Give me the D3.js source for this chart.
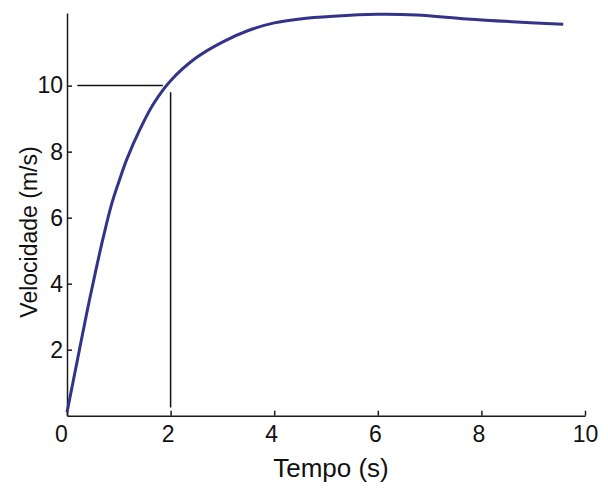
<!DOCTYPE html>
<html>
<head>
<meta charset="utf-8">
<script src="https://cdn.jsdelivr.net/npm/d3@7"></script>
<style>
  body { margin: 0; background: #fff; }
  svg { display: block; font-family: "Liberation Sans", Arial, sans-serif; }
  .axis path, .axis line { stroke: #1a1a1a; stroke-width: 1.5; }
  .axis text { font-size: 23px; fill: #111; }
  .title { fill: #111; }
</style>
</head>
<body>
<div id="chart"></div>
<script>
// velocity curve
const time = [0, 0.19, 0.38, 0.57, 0.70, 0.86, 1.0, 1.15, 1.41, 1.67, 2.0, 2.5, 3.0, 3.5, 4.0, 4.5, 5.14, 5.98, 6.75, 7.72, 8.68, 9.58];
const velocity = [0.1, 1.6, 3.1, 4.5, 5.4, 6.4, 7.08, 7.75, 8.68, 9.45, 10.15, 10.85, 11.32, 11.67, 11.9, 12.02, 12.1, 12.16, 12.14, 12.02, 11.93, 11.86];

const xTicks = [0, 2, 4, 6, 8, 10];
const yTicks = [2, 4, 6, 8, 10];

// guide lines at v = 10 and t = 2
const guideV = 10, guideT = 2;
const guideHFrom = 0.2, guideHTo = 1.85;
const guideVFrom = 0.25, guideVTo = 9.8;

const width = 608, height = 489;

const svg = d3.select("#chart").append("svg")
    .attr("width", width)
    .attr("height", height);

const x = d3.scaleLinear().domain([0, 10]).range([67, 585]);
const y = d3.scaleLinear().domain([0, 12.2]).range([415.7, 13]);

// x axis
svg.append("g")
    .attr("class", "axis")
    .attr("transform", `translate(0,${y(0)})`)
    .call(d3.axisBottom(x).tickValues(xTicks).tickSizeInner(-5).tickSizeOuter(0).tickPadding(10))
    .call(g => g.selectAll(".tick text").attr("dx", d => d === 10 ? 0 : (d === 0 ? -6 : -3)));

// y axis
svg.append("g")
    .attr("class", "axis")
    .attr("transform", `translate(${x(0)},0)`)
    .call(d3.axisLeft(y).tickValues(yTicks).tickSizeInner(-5).tickSizeOuter(0).tickPadding(4));

// guide lines
svg.append("line")
    .attr("x1", x(guideHFrom)).attr("x2", x(guideHTo))
    .attr("y1", y(guideV)).attr("y2", y(guideV))
    .attr("stroke", "#111").attr("stroke-width", 1.5);

svg.append("line")
    .attr("x1", x(guideT)).attr("x2", x(guideT))
    .attr("y1", y(guideVTo)).attr("y2", y(guideVFrom))
    .attr("stroke", "#111").attr("stroke-width", 1.5);

// curve
const line = d3.line()
    .x((d, i) => x(time[i]))
    .y(d => y(d))
    .curve(d3.curveCatmullRom.alpha(0.5));

svg.append("path")
    .datum(velocity)
    .attr("fill", "none")
    .attr("stroke", "#33338a")
    .attr("stroke-width", 3)
    .attr("d", line);

// axis titles
svg.append("text")
    .attr("class", "title")
    .attr("text-anchor", "middle")
    .attr("font-size", 26)
    .attr("x", 331).attr("y", 477)
    .text("Tempo (s)");

svg.append("text")
    .attr("class", "title")
    .attr("text-anchor", "middle")
    .attr("font-size", 23)
    .attr("transform", "translate(37,232) rotate(-90)")
    .text("Velocidade (m/s)");
</script>
</body>
</html>
